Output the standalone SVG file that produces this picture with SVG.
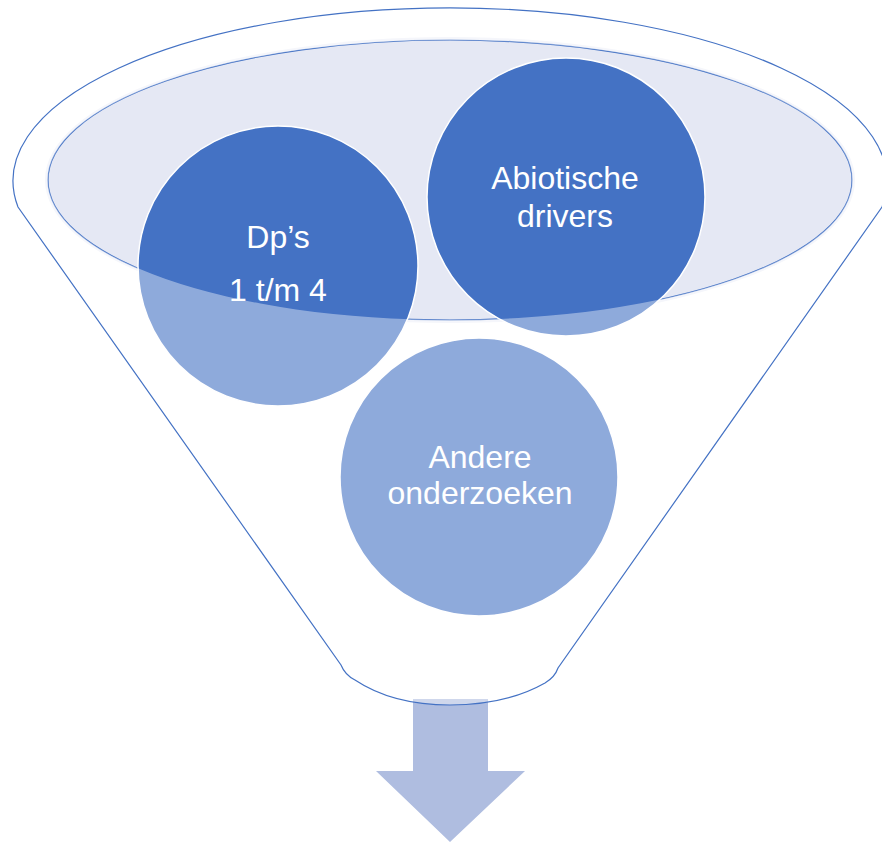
<svg xmlns="http://www.w3.org/2000/svg" width="882" height="845" viewBox="0 0 882 845">
  <style>
    .circ { fill: #4472C4; stroke: #FFFFFF; stroke-width: 1.5; }
    .lbl { font-family: "Liberation Sans", Arial, sans-serif; font-size: 32px; fill: #FFFFFF; text-anchor: middle; }
    .outline { fill: none; stroke: #4472C4; stroke-width: 1.2; }
  </style>
  <rect width="882" height="845" fill="#FFFFFF"/>
  <g id="arrow">
    <path d="M413 699 H488 V771 H525 L450 842 L376 771 H413 Z" fill="#AFBDE0"/>
  </g>
  <g id="funnel-top">
    <ellipse cx="450" cy="180" rx="405" ry="143" fill="#EEF0F8"/>
    <ellipse cx="450" cy="180" rx="402" ry="140" fill="#E5E8F4" stroke="#4472C4" stroke-width="1.2"/>
  </g>
  <g id="node-dps">
    <circle class="circ" cx="278" cy="266" r="140"/>
  </g>
  <g id="node-abiotische">
    <circle class="circ" cx="566" cy="197" r="139"/>
  </g>
  <g id="node-andere">
    <circle class="circ" cx="479" cy="477" r="139"/>
  </g>
  <g id="funnel">
    <path fill="#FFFFFF" fill-opacity="0.4" fill-rule="evenodd" d="M18 207 A437 173 0 1 1 882 207 L558 668 Q555 677 545 683 C515 700 480 705 450 705 C420 705 385 700 355 680 Q345 675 341 665 Z M48 180 A402 140 0 1 0 852 180 A402 140 0 1 0 48 180 Z"/>
    <path class="outline" d="M18 207 A437 173 0 1 1 882 207 L558 668 Q555 677 545 683 C515 700 480 705 450 705 C420 705 385 700 355 680 Q345 675 341 665 Z"/>
  </g>
  <g id="labels">
    <text class="lbl" x="278" y="248">Dp’s</text>
    <text class="lbl" x="278" y="301">1 t/m 4</text>
    <text class="lbl" x="565" y="189">Abiotische</text>
    <text class="lbl" x="565" y="227">drivers</text>
    <text class="lbl" x="480" y="468">Andere</text>
    <text class="lbl" x="480" y="504">onderzoeken</text>
  </g>
</svg>
